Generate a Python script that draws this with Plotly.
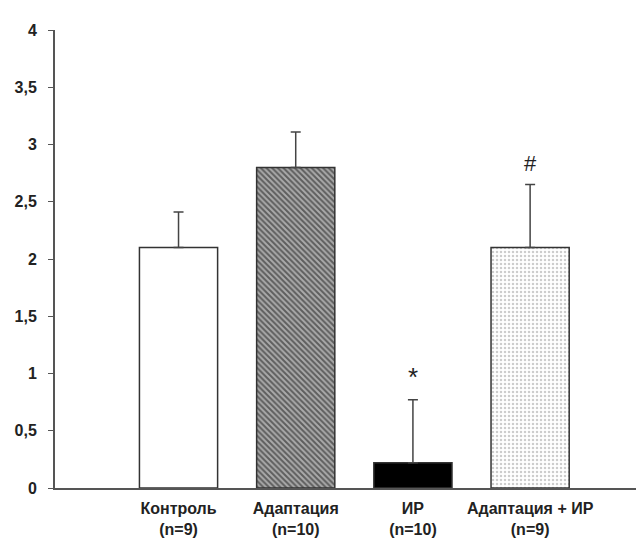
import plotly.graph_objects as go

categories = ["Контроль<br>(n=9)", "Адаптация<br>(n=10)", "ИР<br>(n=10)", "Адаптация + ИР<br>(n=9)"]
means = [2.10, 2.80, 0.22, 2.10]
sem = [0.31, 0.31, 0.55, 0.55]
marks = ["", "", "*", "#"]
mark_y = [None, None, 0.97, 2.83]
mark_size = [0, 0, 26, 22]
y_tickvals = [0, 0.5, 1, 1.5, 2, 2.5, 3, 3.5, 4]
y_ticktext = ["0", "0,5", "1", "1,5", "2", "2,5", "3", "3,5", "4"]

x = list(range(len(categories)))
styles = [
    dict(color="white"),
    dict(color="#aaaaaa", pattern=dict(shape="\\", fgcolor="#111111", bgcolor="#aaaaaa", size=4, solidity=0.5)),
    dict(color="black"),
    dict(color="white", pattern=dict(shape=".", fgcolor="#9a9a9a", bgcolor="white", size=4, solidity=0.3)),
]

fig = go.Figure()
for i in x:
    st = dict(styles[i])
    st["line"] = dict(color="#333333", width=1.5)
    fig.add_trace(go.Bar(
        x=[x[i]], y=[means[i]], width=0.667,
        marker=st,
        error_y=dict(type="data", symmetric=False, array=[sem[i]], arrayminus=[0],
                     color="#444444", thickness=1.5, width=5),
        showlegend=False,
    ))

for xi, m, my, ms in zip(x, marks, mark_y, mark_size):
    if m:
        fig.add_annotation(x=xi, y=my, text=m, showarrow=False,
                           font=dict(size=ms, color="#222222", family="Liberation Sans, Arial"),
                           yanchor="middle")

fig.update_layout(
    width=644, height=539,
    margin=dict(l=47, r=0, t=22, b=59),
    plot_bgcolor="white", paper_bgcolor="white",
    font=dict(family="Liberation Sans, Arial", size=16, color="#222222"),
    barmode="overlay",
)
fig.update_xaxes(range=[-1.054, 4.04], tickvals=x, ticktext=categories,
                 showline=True, linecolor="#555555", linewidth=2,
                 ticks="", showgrid=False, zeroline=False, automargin=False,
                 ticklabelstandoff=5,
                 tickfont=dict(size=16, family="Liberation Sans, Arial", weight="bold"))
fig.update_yaxes(range=[0, 4], tickvals=y_tickvals, ticktext=y_ticktext,
                 showline=True, linecolor="#555555", linewidth=2,
                 ticks="outside", ticklen=5, tickcolor="#555555", tickwidth=1,
                 showgrid=False, zeroline=False, automargin=False,
                 ticklabelstandoff=8,
                 tickfont=dict(size=16, family="Liberation Sans, Arial", weight="bold"))

fig.write_html("out.html")
